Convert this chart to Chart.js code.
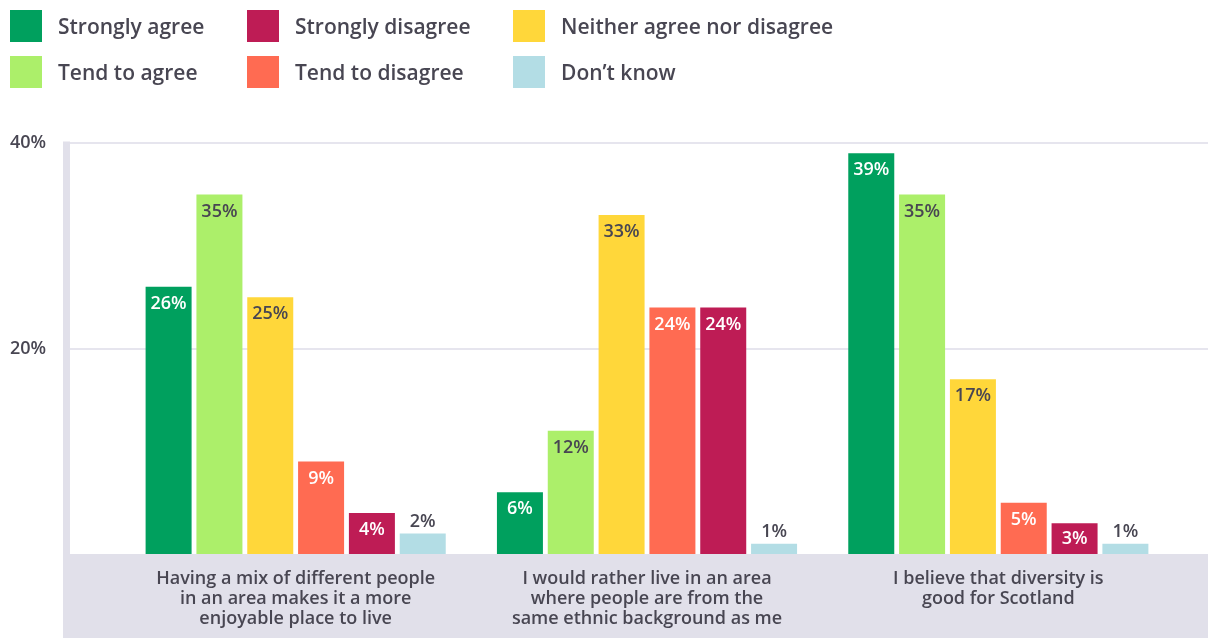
<!DOCTYPE html>
<html>
<head>
<meta charset="utf-8">
<script src="https://cdn.jsdelivr.net/npm/chart.js@4/dist/chart.umd.min.js"></script>
<style>
    html, body { margin: 0; padding: 0; background: #fff; overflow: hidden; }
    #wrap { position: relative; width: 1208px; height: 638px; }
    #legend {
        position: absolute; left: 10px; top: 10px;
        display: grid; grid-template-columns: 237px 266px auto; row-gap: 14px;
        font-family: 'Open Sans', sans-serif; font-weight: 600; font-size: 21px; color: #484652;
    }
    .legend-item { display: flex; align-items: center; height: 32px; }
    .legend-box { width: 32px; height: 32px; margin-right: 16px; }
</style>
</head>
<body>
<div id="wrap">
    <canvas id="myChart"></canvas>
    <div id="legend"></div>
</div>
<script>
// Data
const categories = [
    ['Having a mix of different people', 'in an area makes it a more', 'enjoyable place to live'],
    ['I would rather live in an area', 'where people are from the', 'same ethnic background as me'],
    ['I believe that diversity is', 'good for Scotland']
];
const seriesNames = ['Strongly agree', 'Tend to agree', 'Neither agree nor disagree', 'Tend to disagree', 'Strongly disagree', 'Don\u2019t know'];
const stronglyAgree = [26, 6, 39];
const tendToAgree = [35, 12, 35];
const neither = [25, 33, 17];
const tendToDisagree = [9, 24, 5];
const stronglyDisagree = [4, 24, 3];
const dontKnow = [2, 1, 1];
const yTicks = [0, 20, 40];

// Styles
const seriesColors = ['#00a05e', '#acef6a', '#ffd73a', '#ff6b52', '#be1c55', '#b3dde5'];
const labelColors = ['#ffffff', '#484652', '#484652', '#ffffff', '#ffffff', '#484652'];
const legendOrder = [0, 4, 2, 1, 3, 5]; // row-wise, 3 columns
const textColor = '#484652';
const bandColor = '#e1e0ea';
const gridColor = '#e6e5ee';

Chart.defaults.font.family = "'Open Sans', sans-serif";

const seriesValues = [stronglyAgree, tendToAgree, neither, tendToDisagree, stronglyDisagree, dontKnow];

// Background: axis strip, gridlines and the grey band under zero
const backgroundPlugin = {
    id: 'background',
    beforeDraw(chart) {
        const ctx = chart.ctx;
        const y = chart.scales.y;
        const w = chart.width, h = chart.height;
        const top = y.getPixelForValue(40);
        const zero = y.getPixelForValue(0);
        ctx.save();
        ctx.fillStyle = bandColor;
        ctx.fillRect(63, top - 1.5, 7, h - top + 1.5);
        ctx.fillRect(63, zero, w - 63, h - zero);
        ctx.strokeStyle = gridColor;
        ctx.lineWidth = 2;
        yTicks.filter(v => v > 0).forEach(v => {
            const py = Math.round(y.getPixelForValue(v));
            ctx.beginPath();
            ctx.moveTo(70, py);
            ctx.lineTo(w, py);
            ctx.stroke();
        });
        ctx.restore();
    }
};

// Value labels on the bars
const valueLabels = {
    id: 'valueLabels',
    afterDatasetsDraw(chart) {
        const ctx = chart.ctx;
        ctx.save();
        ctx.font = "600 18px 'Open Sans', sans-serif";
        ctx.textAlign = 'center';
        ctx.textBaseline = 'middle';
        chart.data.datasets.forEach((ds, di) => {
            const meta = chart.getDatasetMeta(di);
            meta.data.forEach((bar, i) => {
                const v = ds.data[i];
                const height = bar.base - bar.y;
                let ty;
                if (height > 25) {
                    ctx.fillStyle = labelColors[di];
                    ty = Math.min(bar.y + 17, (bar.y + bar.base) / 2);
                } else {
                    ctx.fillStyle = textColor;
                    ty = bar.y - 12;
                }
                ctx.fillText(v + '%', bar.x, ty);
            });
        });
        ctx.restore();
    }
};

// HTML legend
const htmlLegend = {
    id: 'htmlLegend',
    afterUpdate(chart) {
        const box = document.getElementById('legend');
        box.innerHTML = '';
        legendOrder.forEach(i => {
            const ds = chart.data.datasets[i];
            const item = document.createElement('div');
            item.className = 'legend-item';
            const sw = document.createElement('span');
            sw.className = 'legend-box';
            sw.style.background = ds.backgroundColor;
            const txt = document.createElement('span');
            txt.textContent = ds.label;
            item.appendChild(sw);
            item.appendChild(txt);
            box.appendChild(item);
        });
    }
};

const ctx = document.getElementById('myChart').getContext('2d');
const myChart = new Chart(ctx, {
    type: 'bar',
    data: {
        labels: categories,
        datasets: seriesNames.map((name, i) => ({
            label: name,
            data: seriesValues[i],
            backgroundColor: seriesColors[i],
            borderWidth: 0,
            categoryPercentage: 0.868,
            barPercentage: 0.905
        }))
    },
    options: {
        responsive: true,
        maintainAspectRatio: false,
        animation: false,
        layout: { padding: { top: 143, left: 10, right: 34, bottom: 0 } },
        plugins: {
            legend: { display: false },
            tooltip: { enabled: false }
        },
        scales: {
            x: {
                grid: { display: false, drawTicks: false },
                border: { display: false },
                ticks: {
                    color: textColor,
                    font: { size: 18, weight: 600, lineHeight: '20px' },
                    padding: 15,
                    maxRotation: 0,
                    autoSkip: false
                },
                afterFit: scale => { scale.height = 84; }
            },
            y: {
                min: 0,
                max: 40,
                grid: { display: false, drawTicks: false },
                border: { display: false },
                afterBuildTicks: scale => { scale.ticks = yTicks.map(v => ({ value: v })); },
                ticks: {
                    color: textColor,
                    font: { size: 18, weight: 600 },
                    crossAlign: 'far',
                    callback: v => v === 0 ? '' : v + '%'
                },
                afterFit: scale => { scale.width = 110; }
            }
        }
    },
    plugins: [backgroundPlugin, valueLabels, htmlLegend]
});
</script>
</body>
</html>
